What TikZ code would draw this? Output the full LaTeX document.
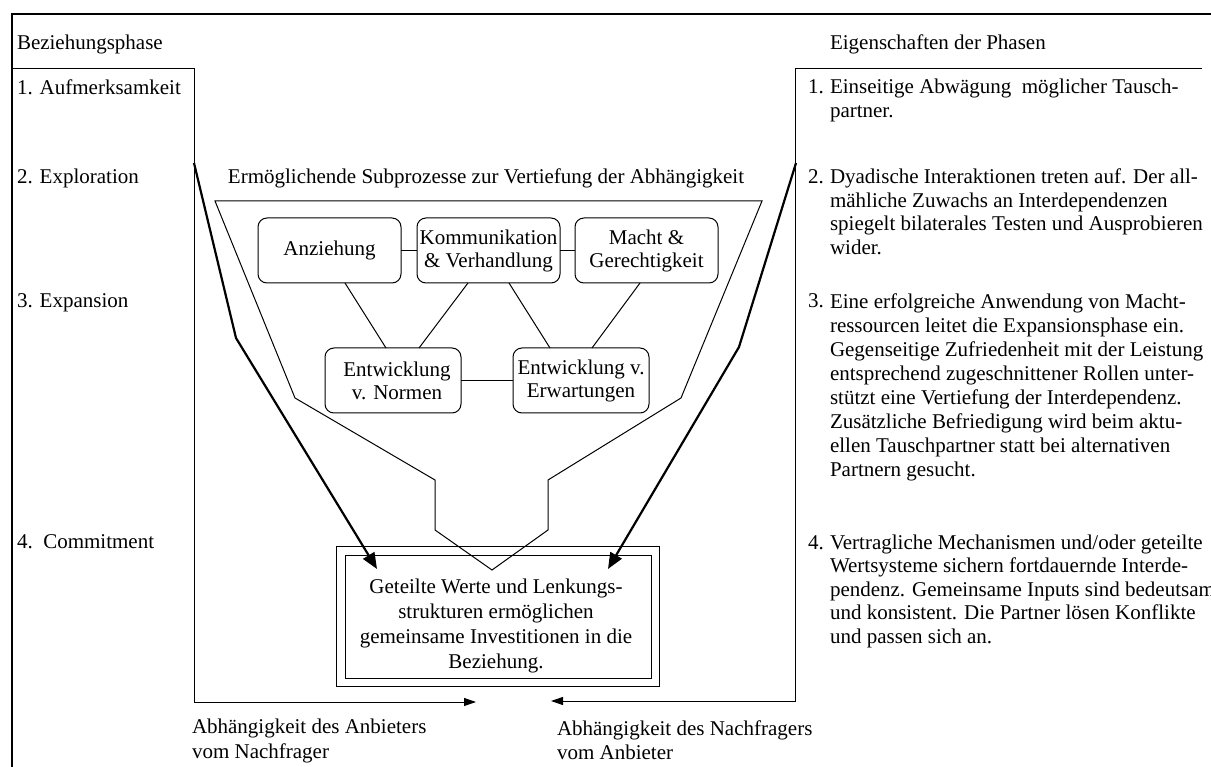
\documentclass[tikz,border=0pt]{standalone}
\usepackage{fontspec}
\setmainfont{Liberation Serif}
\usetikzlibrary{arrows.meta,calc}
\begin{document}
\begin{tikzpicture}[x=1pt,y=-1pt,
  every node/.style={inner sep=0pt, outer sep=0pt},
  txt/.style={font=\fontsize{21}{23.7}\selectfont, align=left},
  lbl/.style={font=\fontsize{21}{23.7}\selectfont, anchor=base west},
  subbox/.style={draw, line width=1pt, rounded corners=9pt, minimum width=143pt, minimum height=65pt, align=center, font=\fontsize{21}{23}\selectfont},
  ln/.style={line width=1pt},
  bigarrow/.style={line width=2.2pt, line join=round, -{Triangle[length=16pt,width=13pt]}},
  smallarrow/.style={line width=1pt, -{Triangle[length=12pt,width=8pt]}},
]
\useasboundingbox (0,0) rectangle (1211,767);

% outer frame
\draw[line width=1.5pt] (12,770) -- (12,14) -- (1215,14);

% brackets with arrows
\coordinate (lend) at (476,702);
\coordinate (rend) at (551,701);
\draw[smallarrow] (12,69) -- (194,69) -- (194,702) -- (lend);
\draw[smallarrow] (1202,69) -- (795,69) -- (795,701) -- (rend);

% left labels
\node[lbl] (bp) at (17,50) {Beziehungsphase};
\node[lbl] (p1) at (17,95) {1. Aufmerksamkeit};
\node[lbl] (p2) at (17,184) {2. Exploration};
\node[lbl] (p3) at (17,308) {3. Expansion};
\node[lbl] (p4) at (17,548) {4.\ \ Commitment};

% right labels
\node[lbl] (ep) at (830,50) {Eigenschaften der Phasen};
\node[lbl] (n1) at (808,94) {1.};
\node[txt, anchor=north west] (e1) at (830,78) {\rule{0pt}{16pt}Einseitige Abwägung\ \ möglicher Tausch-\\partner.};
\node[lbl] (n2) at (808,184) {2.};
\node[txt, anchor=north west, font=\fontsize{21}{23.4}\selectfont] (e2) at (830,168) {\rule{0pt}{16pt}Dyadische Interaktionen treten auf. Der all-\\mähliche Zuwachs an Interdependenzen\\spiegelt bilaterales Testen und Ausprobieren\\wider.};
\node[lbl] (n3) at (808,308) {3.};
\node[txt, anchor=north west, font=\fontsize{21}{24.1}\selectfont] (e3) at (830,292) {\rule{0pt}{16pt}Eine erfolgreiche Anwendung von Macht-\\ressourcen leitet die Expansionsphase ein.\\Gegenseitige Zufriedenheit mit der Leistung\\entsprechend zugeschnittener Rollen unter-\\stützt eine Vertiefung der Interdependenz.\\Zusätzliche Befriedigung wird beim aktu-\\ellen Tauschpartner statt bei alternativen\\Partnern gesucht.};
\node[lbl] (n4) at (808,549) {4.};
\node[txt, anchor=north west, font=\fontsize{21}{23.5}\selectfont] (e4) at (830,533) {\rule{0pt}{16pt}Vertragliche Mechanismen und/oder geteilte\\Wertsysteme sichern fortdauernde Interde-\\pendenz. Gemeinsame Inputs sind bedeutsam\\und konsistent. Die Partner lösen Konflikte\\und passen sich an.};

% funnel
\draw[ln, line join=miter] (215,201) -- (762,201) -- (681,398) -- (548,480) -- (548,530) -- (492,570) -- (435,530) -- (435,480) -- (295,398) -- cycle;
\node[lbl, anchor=base] (title) at (486,184) {Ermöglichende Subprozesse zur Vertiefung der Abhängigkeit};

% sub-process boxes
\node[subbox] (anz) at (329.5,250.5) {Anziehung};
\node[subbox] (kom) at (488.5,250.5) {Kommunikation\\\& Verhandlung};
\node[subbox] (mac) at (646.5,250.5) {Macht \&\\Gerechtigkeit};
\node[subbox, minimum width=136pt] (nor) at (393,380.5) {\hspace*{8pt}Entwicklung\\\hspace*{8pt}v. Normen};
\node[subbox, minimum width=136pt] (erw) at (581,380.5) {Entwicklung v.\\Erwartungen};

\draw[ln] (anz) -- (kom);
\draw[ln] (kom) -- (mac);
\draw[ln] (nor) -- (erw);
\draw[ln] ([xshift=15.5pt]anz.south) -- ([xshift=-7pt]nor.north);
\draw[ln] ([xshift=-20.5pt]kom.south) -- ([xshift=26pt]nor.north);
\draw[ln] ([xshift=20.5pt]kom.south) -- ([xshift=-31pt]erw.north);
\draw[ln] ([xshift=-6.5pt]mac.south) -- ([xshift=11pt]erw.north);

% commitment box
\node[draw, line width=1pt, minimum width=323pt, minimum height=140pt] (cout) at (497.5,616) {};
\node[draw, line width=1pt, minimum width=306pt, minimum height=123pt] (cin) at (498,616.5) {};
\node[align=center, font=\fontsize{21}{25}\selectfont] (ctext) at (496,625.5) {Geteilte Werte und Lenkungs-\\strukturen ermöglichen\\gemeinsame Investitionen in die\\Beziehung.};

% thick arrows
\coordinate (la0) at (194,163);
\coordinate (la1) at (236,338);
\coordinate (la2) at (377,569);
\coordinate (ra0) at (796,163);
\coordinate (ra1) at (739,347);
\coordinate (ra2) at (608,569);
\draw[bigarrow] (la0) -- (la1) -- (la2);
\draw[bigarrow] (ra0) -- (ra1) -- (ra2);

% bottom labels
\node[txt, anchor=north west, font=\fontsize{21}{25}\selectfont] (b1) at (192,717) {\rule{0pt}{16pt}Abhängigkeit des Anbieters\\vom Nachfrager};
\node[txt, anchor=north west, font=\fontsize{21}{24}\selectfont] (b2) at (557,719) {\rule{0pt}{16pt}Abhängigkeit des Nachfragers\\vom Anbieter};
\end{tikzpicture}
\end{document}
